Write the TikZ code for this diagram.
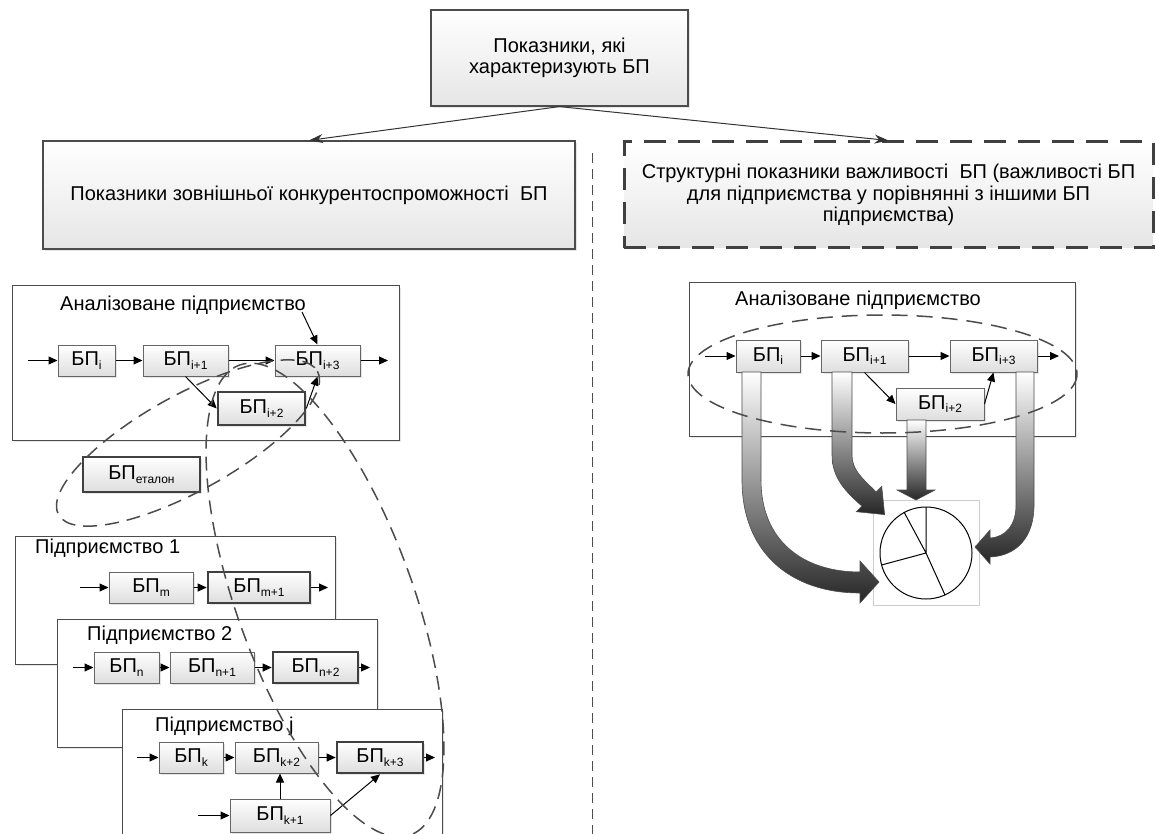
\documentclass[tikz,border=0pt]{standalone}
\usepackage{fontspec}
\setmainfont{Liberation Sans}
\usepackage{tikz}
\usetikzlibrary{arrows.meta,shadows}

\newcommand\bp[1]{БП\raisebox{-3.5pt}{\fontsize{12}{12}\selectfont#1}}

\begin{document}
\begin{tikzpicture}[x=1pt,y=-1pt,
  font=\fontsize{20}{21.5}\selectfont,
  >={Triangle[length=9pt,width=8pt]},
  mainbox/.style={draw=black!70,line width=1.2pt,top color=white,bottom color=black!10,
    drop shadow={opacity=.2,shadow xshift=2pt,shadow yshift=-2pt},align=center,inner sep=0pt},
  dashbox/.style={draw=black!75,line width=3pt,dash pattern=on 22pt off 12pt,
    top color=white,bottom color=black!10,align=center},
  panel/.style={draw=black!70,line width=1pt,fill=white,inner sep=0pt,
    drop shadow={opacity=.2,shadow xshift=2pt,shadow yshift=-2pt}},
  bpbox/.style={draw=black!60,line width=1pt,top color=white,bottom color=black!13,
    minimum height=31pt,inner sep=0pt,
    drop shadow={opacity=.2,shadow xshift=1.5pt,shadow yshift=-1.5pt}},
  keybox/.style={bpbox,draw=black!75,line width=2.6pt},
  flow/.style={->,line width=1pt},
  title/.style={anchor=west,inner sep=0pt},
  group/.style={draw=black!70,line width=1.5pt,dash pattern=on 14pt off 8pt},
  bigarrow/.style={draw=black!70,line width=.6pt,top color=white,bottom color=black!85},
  sep/.style={draw=black!70,line width=1pt,dash pattern=on 10pt off 6pt}]
\useasboundingbox (0,0) rectangle (1156,834);
\clip (0,0) rectangle (1156,834);

% top level
\node[mainbox,minimum width=257pt,minimum height=96pt] (top) at (559.5,58) {Показники, які\\характеризують БП};
\node[mainbox,minimum width=532pt,minimum height=108pt] (ext) at (309,195) {Показники зовнішньої конкурентоспроможності\ \ БП};
\node[dashbox,minimum width=529pt,minimum height=106pt] (str) at (888.5,195) {Структурні показники важливості\ \ БП (важливості БП\\для підприємства у порівнянні з іншими БП\\підприємства)};
\draw[->,>={Stealth[length=14pt,width=9pt]},line width=1pt,black!80] (top.south) -- (ext.north);
\draw[->,>={Stealth[length=14pt,width=9pt]},line width=1pt,black!80] (top.south) -- (str.north);
\draw[sep] (592,153) -- (592,834);

% analysed enterprise, left
\node[panel,minimum width=387pt,minimum height=154pt] (an) at (205.5,363) {};
\node[title] (antitle) at (60,305) {Аналізоване підприємство};
\node[bpbox,minimum width=57pt] (ai) at (86.5,360.5) {\bp{i}};
\node[bpbox,minimum width=85pt] (ai1) at (185.5,360.5) {\bp{i+1}};
\node[bpbox,minimum width=85pt] (ai3) at (317.5,360.5) {\bp{i+3}};
\node[keybox,minimum width=87pt,minimum height=33pt] (ai2) at (261.5,408.5) {\bp{i+2}};
\coordinate (ain) at (28,360.5);
\coordinate (aout) at (388,360.5);
\coordinate (atip) at (302,312);
\draw[flow] (ain) -- (ai);
\draw[flow] (ai) -- (ai1);
\draw[flow] (ai1) -- (ai3);
\draw[flow] (ai3) -- (aout);
\draw[flow] (ai1.south) -- (ai2.west);
\draw[flow] (ai2.east) -- (ai3.south);
\draw[flow] (atip) -- (ai3.north);

\node[keybox,minimum width=117pt,minimum height=35pt] (etalon) at (141.5,474.5) {\bp{еталон}};

% enterprise 1
\node[panel,minimum width=320pt,minimum height=128pt] (p1) at (175,600) {};
\node[title] (p1title) at (35,548) {Підприємство 1};
\node[bpbox,minimum width=84pt] (bm) at (151,587.5) {\bp{m}};
\node[keybox,minimum width=102pt] (bm1) at (259,587.5) {\bp{m+1}};
\coordinate (p1in) at (80,587.5);
\coordinate (p1out) at (328,587.5);
\draw[flow] (p1in) -- (bm);
\draw[flow] (bm) -- (bm1);
\draw[flow] (bm1) -- (p1out);

% enterprise 2
\node[panel,minimum width=320pt,minimum height=128pt] (p2) at (217,683) {};
\node[title] (p2title) at (87,635) {Підприємство 2};
\node[bpbox,minimum width=65pt] (bn) at (126.5,667.5) {\bp{n}};
\node[bpbox,minimum width=84pt] (bn1) at (212,667.5) {\bp{n+1}};
\node[keybox,minimum width=85pt] (bn2) at (315.5,667.5) {\bp{n+2}};
\coordinate (p2in) at (73,667.5);
\coordinate (p2out) at (370,667.5);
\draw[flow] (p2in) -- (bn);
\draw[flow] (bn) -- (bn1);
\draw[flow] (bn1) -- (bn2);
\draw[flow] (bn2) -- (p2out);

% enterprise j
\node[panel,minimum width=320pt,minimum height=160pt] (pj) at (282,789) {};
\node[title] (pjtitle) at (155,726) {Підприємство j};
\node[bpbox,minimum width=64pt] (bk) at (191,757.5) {\bp{k}};
\node[bpbox,minimum width=83pt] (bk2) at (276.5,757.5) {\bp{k+2}};
\node[keybox,minimum width=86pt] (bk3) at (380,757.5) {\bp{k+3}};
\node[bpbox,minimum width=100pt,minimum height=33pt] (bk1) at (280,815.5) {\bp{k+1}};
\coordinate (pjin) at (137,757.5);
\coordinate (pjout) at (435,757.5);
\coordinate (pjin2) at (198,815.5);
\draw[flow] (pjin) -- (bk);
\draw[flow] (bk) -- (bk2);
\draw[flow] (bk2) -- (bk3);
\draw[flow] (bk3) -- (pjout);
\draw[flow] (pjin2) -- (bk1);
\draw[flow] (bk1.north) -- (bk1.north |- bk2.south);
\draw[flow] (bk1.east) -- (bk3.south);

% comparison groups
\draw[group,rotate around={29:(188,443)}] (188,443) ellipse [x radius=148,y radius=48];
\draw[group,rotate around={20:(325,600)}] (325,600) ellipse [x radius=88,y radius=250];

% analysed enterprise, right
\node[panel,minimum width=386pt,minimum height=153pt] (rn) at (882,359.5) {};
\node[title] (rntitle) at (735,300) {Аналізоване підприємство};
\node[bpbox,minimum width=64pt,minimum height=32pt] (ri) at (768,356) {\bp{i}};
\node[bpbox,minimum width=87pt,minimum height=32pt] (ri1) at (864.5,356) {\bp{i+1}};
\node[bpbox,minimum width=87pt,minimum height=32pt] (ri3) at (993.5,356) {\bp{i+3}};
\node[bpbox,minimum width=88pt,minimum height=32pt] (ri2) at (940,404) {\bp{i+2}};
\coordinate (rin) at (705,356);
\coordinate (rout) at (1059,356);
\draw[flow] (rin) -- (ri);
\draw[flow] (ri) -- (ri1);
\draw[flow] (ri1) -- (ri3);
\draw[flow] (ri3) -- (rout);
\draw[flow] (ri1.south) -- (ri2.west);
\draw[flow] (ri2.east) -- (ri3.south);

% pie of shares
\node[draw=black!20,line width=.8pt,fill=white,minimum width=106pt,minimum height=105pt] (pie) at (926,552.5) {};
\draw[line width=1pt] (926,553) circle [radius=46];
\draw[line width=1pt] (926,553) -- +(0,-46) (926,553) -- +(-22,-41)
  (926,553) -- +(-44.5,12) (926,553) -- +(19,42);

% shares
\path[bigarrow] (742,372) -- (742,480) .. controls (742,552) and (790,593) .. (860,593)
  -- (860,603) -- (879,582) -- (860,561) -- (860,572)
  .. controls (802,572) and (761,540) .. (761,480) -- (761,372) -- cycle;
\path[bigarrow] (832,372) -- (832,455) .. controls (832,478) and (846,492) .. (861.9,506.1)
  -- (856.3,511.7) -- (884.6,514.6) -- (881.7,486.3) -- (876.1,491.9)
  .. controls (862,478) and (852,470) .. (852,455) -- (852,372) -- cycle;
\path[bigarrow] (907,420) -- (907,490) -- (897,490) -- (916,500) -- (935,490) -- (926,490) -- (926,420) -- cycle;
\path[bigarrow] (1034,372) -- (1034,505) .. controls (1034,538) and (1016,556) .. (990,557)
  -- (990,564) -- (975,547) -- (990,530) -- (990,538)
  .. controls (1006,537) and (1016,525) .. (1016,505) -- (1016,372) -- cycle;

\draw[group,dash pattern=on 16pt off 9pt] (882.5,374) ellipse [x radius=194.5,y radius=59];
\end{tikzpicture}
\end{document}
